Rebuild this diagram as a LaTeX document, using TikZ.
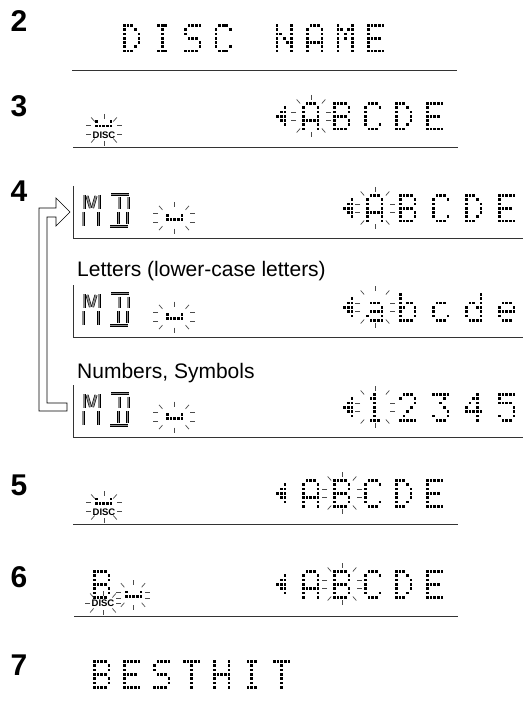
\documentclass[tikz,border=0pt]{standalone}
\usepackage{fontspec}
\setmainfont{Liberation Sans}

% dot matrix characters, 5 columns x 7 rows
\newcount\dotr
\def\dpx{3.65}\def\dpy{4.3}\def\dsz{2.7}
\newcommand\dotbit[2]{\ifnum#2=1 \fill[dotfill] (\dotx+#1*\dpx,\doty+\the\dotr*\dpy) rectangle ++(\dsz,\dsz);\fi}
\newcommand\dotrow[5]{\dotbit{0}{#1}\dotbit{1}{#2}\dotbit{2}{#3}\dotbit{3}{#4}\dotbit{4}{#5}\advance\dotr by 1\relax}
\newcommand\dotglyph[3]{\pgfmathsetmacro\dotx{#1}\pgfmathsetmacro\doty{#2}\dotr=0\relax\csname glyph#3\endcsname}
\newcommand\dotstr[4]{\foreach \g [count=\gi from 0] in {#4} {\dotglyph{#1+\gi*#3}{#2}{\g}}}
\newcommand\defglyph[2]{\expandafter\def\csname glyph#1\endcsname{#2}}

\defglyph{sp}{}
\defglyph{arr}{\dotrow00000\dotrow00001\dotrow00011\dotrow00111\dotrow00011\dotrow00001\dotrow00000}
\defglyph{cur}{\dotrow10001\dotrow11111}
\defglyph{A}{\dotrow01110\dotrow10001\dotrow10001\dotrow10001\dotrow11111\dotrow10001\dotrow10001}
\defglyph{B}{\dotrow11110\dotrow10001\dotrow10001\dotrow11110\dotrow10001\dotrow10001\dotrow11110}
\defglyph{C}{\dotrow01110\dotrow10001\dotrow10000\dotrow10000\dotrow10000\dotrow10001\dotrow01110}
\defglyph{D}{\dotrow11100\dotrow10010\dotrow10001\dotrow10001\dotrow10001\dotrow10010\dotrow11100}
\defglyph{E}{\dotrow11111\dotrow10000\dotrow10000\dotrow11110\dotrow10000\dotrow10000\dotrow11111}
\defglyph{H}{\dotrow10001\dotrow10001\dotrow10001\dotrow11111\dotrow10001\dotrow10001\dotrow10001}
\defglyph{I}{\dotrow01110\dotrow00100\dotrow00100\dotrow00100\dotrow00100\dotrow00100\dotrow01110}
\defglyph{M}{\dotrow10001\dotrow11011\dotrow10101\dotrow10101\dotrow10001\dotrow10001\dotrow10001}
\defglyph{N}{\dotrow10001\dotrow10001\dotrow11001\dotrow10101\dotrow10011\dotrow10001\dotrow10001}
\defglyph{S}{\dotrow01111\dotrow10000\dotrow10000\dotrow01110\dotrow00001\dotrow00001\dotrow11110}
\defglyph{T}{\dotrow11111\dotrow00100\dotrow00100\dotrow00100\dotrow00100\dotrow00100\dotrow00100}
\defglyph{a}{\dotrow00000\dotrow00000\dotrow01110\dotrow00001\dotrow01111\dotrow10001\dotrow01111}
\defglyph{b}{\dotrow10000\dotrow10000\dotrow10110\dotrow11001\dotrow10001\dotrow10001\dotrow11110}
\defglyph{c}{\dotrow00000\dotrow00000\dotrow01110\dotrow10000\dotrow10000\dotrow10001\dotrow01110}
\defglyph{d}{\dotrow00001\dotrow00001\dotrow01101\dotrow10011\dotrow10001\dotrow10001\dotrow01111}
\defglyph{e}{\dotrow00000\dotrow00000\dotrow01110\dotrow10001\dotrow11111\dotrow10000\dotrow01110}
\defglyph{1}{\dotrow00100\dotrow01100\dotrow00100\dotrow00100\dotrow00100\dotrow00100\dotrow01110}
\defglyph{2}{\dotrow01110\dotrow10001\dotrow00001\dotrow00010\dotrow00100\dotrow01000\dotrow11111}
\defglyph{3}{\dotrow11111\dotrow00010\dotrow00100\dotrow00010\dotrow00001\dotrow10001\dotrow01110}
\defglyph{4}{\dotrow00010\dotrow00110\dotrow01010\dotrow10010\dotrow11111\dotrow00010\dotrow00010}
\defglyph{5}{\dotrow11111\dotrow10000\dotrow11110\dotrow00001\dotrow00001\dotrow10001\dotrow01110}

% blinking rays: centre x, centre y, half width, half height, side offset
\newcommand\blink[5]{%
  \draw[ray] (#1,#2-#4-5) -- (#1,#2-#4);
  \draw[ray] (#1,#2+#4) -- (#1,#2+#4+5);
  \foreach \sx in {-1,1}{
    \draw[ray] (#1+\sx*#3,#2-#5) -- ++(\sx*5,0);
    \draw[ray] (#1+\sx*#3,#2+#5) -- ++(\sx*5,0);
    \foreach \sy in {-1,1}
      \draw[ray] (#1+\sx*0.72*#3,#2+\sy*0.78*#4) -- ++(\sx*3.5,\sy*4);
  }}

% segment characters "MD", top left corner
\newcommand\mdchars[2]{%
  \draw[seg] (#1+2,#2+2) -- (#1+2,#2+16);
  \draw[seg] (#1+1,#2+19) -- (#1+1,#2+33);
  \draw[seg] (#1+17,#2+2) -- (#1+17,#2+16);
  \draw[seg] (#1+16.5,#2+19) -- (#1+16.5,#2+33);
  \draw[seg] (#1+5,#2+3) -- (#1+8.5,#2+15);
  \draw[seg] (#1+14,#2+3) -- (#1+10.5,#2+15);
  \draw[seg] (#1+29,#2+1.5) -- (#1+47,#2+1.5);
  \draw[seg] (#1+28,#2+33.5) -- (#1+46,#2+33.5);
  \draw[seg] (#1+37,#2+4.5) -- (#1+37,#2+16);
  \draw[seg] (#1+36.5,#2+19) -- (#1+36.5,#2+30.5);
  \draw[seg] (#1+46,#2+4.5) -- (#1+46,#2+16);
  \draw[seg] (#1+45.5,#2+19) -- (#1+45.5,#2+30.5);
}

\begin{document}
\begin{tikzpicture}[x=1pt,y=-1pt,
  dotfill/.style={fill=black},
  ray/.style={draw=black!70, line width=0.7pt},
  rule/.style={draw=black!80, line width=0.8pt},
  seg/.style={draw=black, line width=0.6pt, double=black!45, double distance=1.8pt},
  stepnum/.style={font=\fontsize{30}{30}\selectfont\bfseries, inner sep=0pt},
  lbl/.style={font=\fontsize{21}{24}\selectfont, inner sep=0pt, anchor=base west},
  disclbl/.style={font=\fontsize{9.5}{9.5}\selectfont\bfseries, inner sep=0pt},
  hollowarrow/.style={draw=black, line width=0.7pt, fill=white, line join=miter}
]
\useasboundingbox (0,0) rectangle (523,703);

% step numbers
\node[stepnum] (n2) at (19,21) {2};
\node[stepnum] (n3) at (19,106) {3};
\node[stepnum] (n4) at (19,191) {4};
\node[stepnum] (n5) at (19,485) {5};
\node[stepnum] (n6) at (19,577) {6};
\node[stepnum] (n7) at (19,665) {7};

% step 2
\dotstr{123}{24}{30.5}{D,I,S,C,sp,N,A,M,E}
\draw[rule] (72,70) -- (457,70);

% step 3
\dotglyph{95}{120.5}{cur}
\node[disclbl] (disc3) at (104,135) {DISC};
\blink{104}{130}{13}{11}{4.5}
\dotglyph{269}{102}{arr}
\dotstr{302}{102}{31}{A,B,C,D,E}
\blink{311}{116}{15}{16}{4}
\draw[rule] (73,147) -- (458,147);

% step 4: three displays
\foreach \off in {0,99,199}{
  \mdchars{82}{193+\off}
  \dotglyph{166}{214+\off}{cur}
  \blink{174}{218+\off}{16}{10.5}{4.5}
  \dotglyph{336}{194+\off}{arr}
  \blink{375}{208+\off}{15}{16}{4}
  \draw[rule] (73,186+\off) |- (523,238+\off);
}
\dotstr{366}{194}{33}{A,B,C,D,E}
\dotstr{366}{293}{33}{a,b,c,d,e}
\dotstr{366}{393}{33}{1,2,3,4,5}
\node[lbl] (lowlbl) at (77,276) {Letters (lower-case letters)};
\node[lbl] (numlbl) at (77,378) {Numbers, Symbols};
\draw[hollowarrow] (67,403) -- (47,403) -- (47,217) -- (56,217) -- (56,226)
  -- (70,212) -- (56,198) -- (56,208) -- (39,208) -- (39,411) -- (67,411) -- cycle;

% step 5
\dotglyph{95}{497.5}{cur}
\node[disclbl] (disc5) at (104,512) {DISC};
\blink{104}{507}{13}{11}{4.5}
\dotglyph{269}{479}{arr}
\dotstr{302}{479}{31}{A,B,C,D,E}
\blink{342}{493}{15}{16}{4}
\draw[rule] (73,524) -- (458,524);

% step 6
\dotglyph{93}{570}{B}
\node[disclbl] (disc6) at (103,603) {DISC};
\blink{103}{603}{13}{7}{0}
\dotglyph{125}{590.5}{cur}
\blink{133}{595}{12}{10}{3}
\dotglyph{269}{570}{arr}
\dotstr{302}{570}{31}{A,B,C,D,E}
\blink{342}{584}{15}{16}{4}
\draw[rule] (74,616) -- (458,616);

% step 7
\dotstr{93}{660}{30}{B,E,S,T,H,I,T}
\end{tikzpicture}
\end{document}
